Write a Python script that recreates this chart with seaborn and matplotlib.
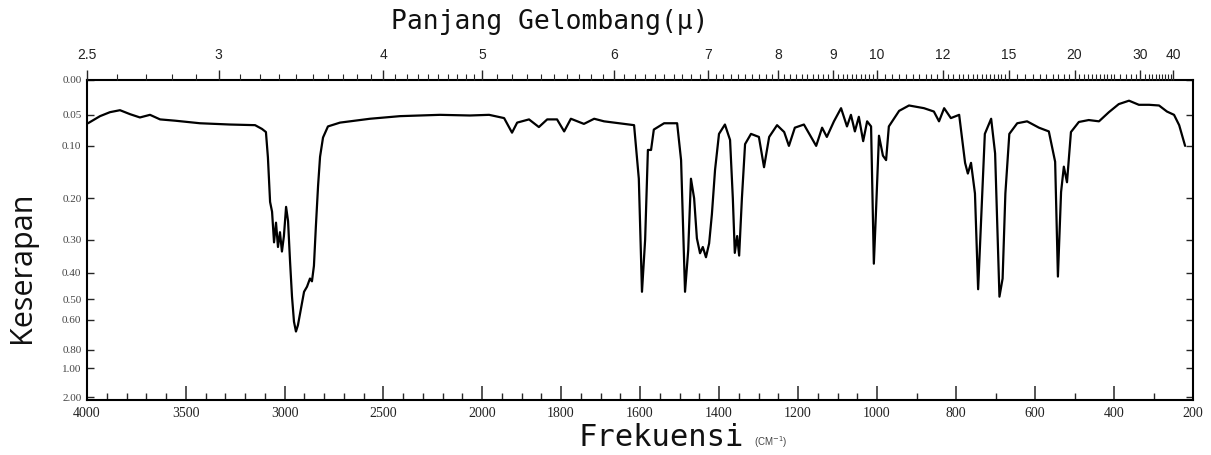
import numpy as np
import matplotlib
matplotlib.use("Agg")
import matplotlib.pyplot as plt
import seaborn as sns

# ---- data (wavenumber cm^-1, absorbance) ----
wavenumber = [3995, 3934, 3884, 3833, 3782, 3732, 3681, 3630, 3554, 3428, 3276, 3149, 3114, 3094,
              3084, 3073, 3063, 3053, 3043, 3033, 3023, 3013, 3003, 2992, 2982, 2972, 2962, 2952,
              2942, 2932, 2916, 2901, 2886, 2871, 2861, 2851, 2841, 2830, 2820, 2805, 2780, 2719,
              2567, 2415, 2213, 2061, 1982, 1944, 1924, 1911, 1881, 1856, 1835, 1810, 1792, 1775,
              1742, 1716, 1691, 1653, 1615, 1603, 1595, 1587, 1580, 1572, 1565, 1539, 1506, 1496,
              1486, 1478, 1471, 1463, 1456, 1448, 1441, 1433, 1425, 1418, 1410, 1400, 1385, 1372,
              1365, 1360, 1354, 1349, 1342, 1334, 1319, 1299, 1286, 1273, 1253, 1235, 1223, 1208,
              1185, 1167, 1154, 1139, 1127, 1109, 1091, 1076, 1066, 1056, 1046, 1035, 1025, 1015,
              1008, 1003, 995, 985, 977, 970, 944, 919, 881, 856, 843, 830, 813, 792,
              777, 770, 762, 752, 744, 737, 727, 711, 701, 690, 682, 675, 665, 645,
              620, 590, 565, 549, 542, 534, 527, 519, 509, 489, 464, 438, 413, 388,
              362, 337, 311, 286, 266, 248, 235, 220]
absorbance = [0.063, 0.052, 0.046, 0.043, 0.049, 0.054, 0.050, 0.057, 0.059, 0.063, 0.065, 0.066, 0.072, 0.077,
              0.12, 0.208, 0.23, 0.307, 0.256, 0.32, 0.28, 0.333, 0.29, 0.219, 0.252, 0.362, 0.49, 0.61,
              0.668, 0.63, 0.54, 0.47, 0.45, 0.42, 0.43, 0.377, 0.264, 0.174, 0.119, 0.086, 0.068, 0.062,
              0.056, 0.052, 0.05, 0.051, 0.05, 0.055, 0.078, 0.062, 0.057, 0.069, 0.057, 0.057, 0.076, 0.056,
              0.064, 0.056, 0.06, 0.063, 0.066, 0.16, 0.47, 0.30, 0.107, 0.107, 0.073, 0.063, 0.063, 0.125,
              0.47, 0.33, 0.16, 0.20, 0.296, 0.338, 0.32, 0.35, 0.31, 0.236, 0.143, 0.08, 0.065, 0.09,
              0.20, 0.337, 0.29, 0.345, 0.20, 0.097, 0.08, 0.085, 0.138, 0.085, 0.066, 0.077, 0.10, 0.07,
              0.065, 0.085, 0.10, 0.07, 0.085, 0.06, 0.04, 0.068, 0.05, 0.076, 0.053, 0.092, 0.06, 0.068,
              0.37, 0.24, 0.083, 0.117, 0.125, 0.068, 0.044, 0.036, 0.04, 0.045, 0.06, 0.04, 0.055, 0.05,
              0.13, 0.15, 0.13, 0.19, 0.46, 0.26, 0.08, 0.056, 0.113, 0.49, 0.42, 0.19, 0.08, 0.063,
              0.06, 0.07, 0.076, 0.128, 0.413, 0.187, 0.137, 0.167, 0.077, 0.061, 0.058, 0.06, 0.046, 0.034,
              0.029, 0.035, 0.035, 0.036, 0.045, 0.05, 0.066, 0.10]

bottom_ticks = [4000, 3500, 3000, 2500, 2000, 1800, 1600, 1400, 1200, 1000, 800, 600, 400, 200]
y_ticks = [0.00, 0.05, 0.10, 0.20, 0.30, 0.40, 0.50, 0.60, 0.80, 1.00, 2.00]
y_labels = ["0.00", "0.05", "0.10", "0.20", "0.30", "0.40", "0.50", "0.60", "0.80", "1.00", "2.00"]
micron_labels = [2.5, 3, 4, 5, 6, 7, 8, 9, 10, 12, 15, 20, 30, 40]

# ---- style ----
sns.set_theme(style="ticks")
plt.rcParams["font.family"] = ["DejaVu Sans"]

W, H = 1211, 455
fig = plt.figure(figsize=(W / 100, H / 100), dpi=100)
left, right, top_px, bot_px = 87, 1193, 80, 400
ax = fig.add_axes([left / W, 1 - bot_px / H, (right - left) / W, (bot_px - top_px) / H])


# piecewise-linear wavenumber scale (4000-2000 compressed 2x)
def fwd_x(w):
    w = np.asarray(w, float)
    return np.where(w >= 2000, 1000 + (w - 2000) / 2.0, w - 1000)


def inv_x(u):
    u = np.asarray(u, float)
    return np.where(u >= 1000, 2000 + 2.0 * (u - 1000), u + 1000)


# absorbance axis, linear in transmittance
def fwd_y(a):
    a = np.asarray(a, float)
    return 1 - np.power(10.0, -a)


def inv_y(f):
    f = np.clip(np.asarray(f, float), -50, 0.9999999)
    return -np.log10(1 - f)


ax.set_xscale("function", functions=(fwd_x, inv_x))
ax.set_yscale("function", functions=(fwd_y, inv_y))

sns.lineplot(x=wavenumber, y=absorbance, sort=False, estimator=None,
             color="black", linewidth=1.6, ax=ax)

ax.set_xlim(4000, 200)
ax.set_ylim(3.0, 0.0)

# bottom ticks
ax.set_xticks(bottom_ticks)
ax.set_xticklabels([str(t) for t in bottom_ticks], fontfamily="Liberation Serif",
                   fontsize=10, color="#222222")
minor_b = [w for w in range(3900, 2000, -100) if w % 500 != 0]
minor_b += [w for w in range(1950, 1000, -50) if w not in bottom_ticks]
minor_b += [900, 700, 500, 300]
ax.set_xticks(minor_b, minor=True)
ax.tick_params(axis="x", which="major", direction="in", length=10, width=1.1,
               top=False, bottom=True, pad=5)
ax.tick_params(axis="x", which="minor", direction="in", length=5, width=1.0,
               top=False, bottom=True)

# y ticks
ax.set_yticks(y_ticks)
ax.set_yticklabels(y_labels, fontfamily="Liberation Serif", fontsize=8, color="#444444")
ax.yaxis.set_minor_locator(matplotlib.ticker.NullLocator())
ax.tick_params(axis="y", which="major", direction="in", length=5, width=1.0,
               left=True, right=True, pad=4)

for s in ax.spines.values():
    s.set_color("black")
    s.set_linewidth(1.5)

# top micron axis
tax = ax.twiny()
tax.set_xscale("function", functions=(fwd_x, inv_x))
tax.set_xlim(4000, 200)
mu_major = np.array(micron_labels, float)
tax.set_xticks(10000.0 / mu_major)
tax.set_xticklabels([("%g" % m) for m in micron_labels], fontfamily="Liberation Sans",
                    fontsize=10, color="#222222")
mu_minor = list(np.arange(2.6, 10.0, 0.1)) + list(np.arange(10.2, 15.0, 0.2)) + \
    list(np.arange(15.5, 25.0, 0.5)) + list(np.arange(25, 41, 1.0))
mu_minor = [m for m in mu_minor if not np.any(np.isclose(m, mu_major))]
tax.set_xticks(10000.0 / np.array(mu_minor), minor=True)
tax.tick_params(axis="x", which="major", direction="out", length=7, width=1.0, pad=6)
tax.tick_params(axis="x", which="minor", direction="out", length=4, width=0.8)
for s in tax.spines.values():
    s.set_visible(False)

# texts
fig.text(550 / W, 1 - 22 / H, "Panjang Gelombang(μ)", ha="center", va="center",
         fontfamily="DejaVu Sans Mono", fontsize=19, color="#111111")
fig.text(578 / W, 1 - 437 / H, "Frekuensi", ha="left", va="center",
         fontfamily="DejaVu Sans Mono", fontsize=22, color="#111111")
fig.text(754 / W, 1 - 442 / H, "(CM$^{-1}$)", ha="left", va="center",
         fontfamily="Liberation Sans", fontsize=7, color="#444444")
fig.text(22 / W, 1 - 267 / H, "Keserapan", ha="center", va="center", rotation=90,
         fontfamily="Open Sans", fontsize=22, color="#111111")

fig.savefig("out.png", dpi=100)
